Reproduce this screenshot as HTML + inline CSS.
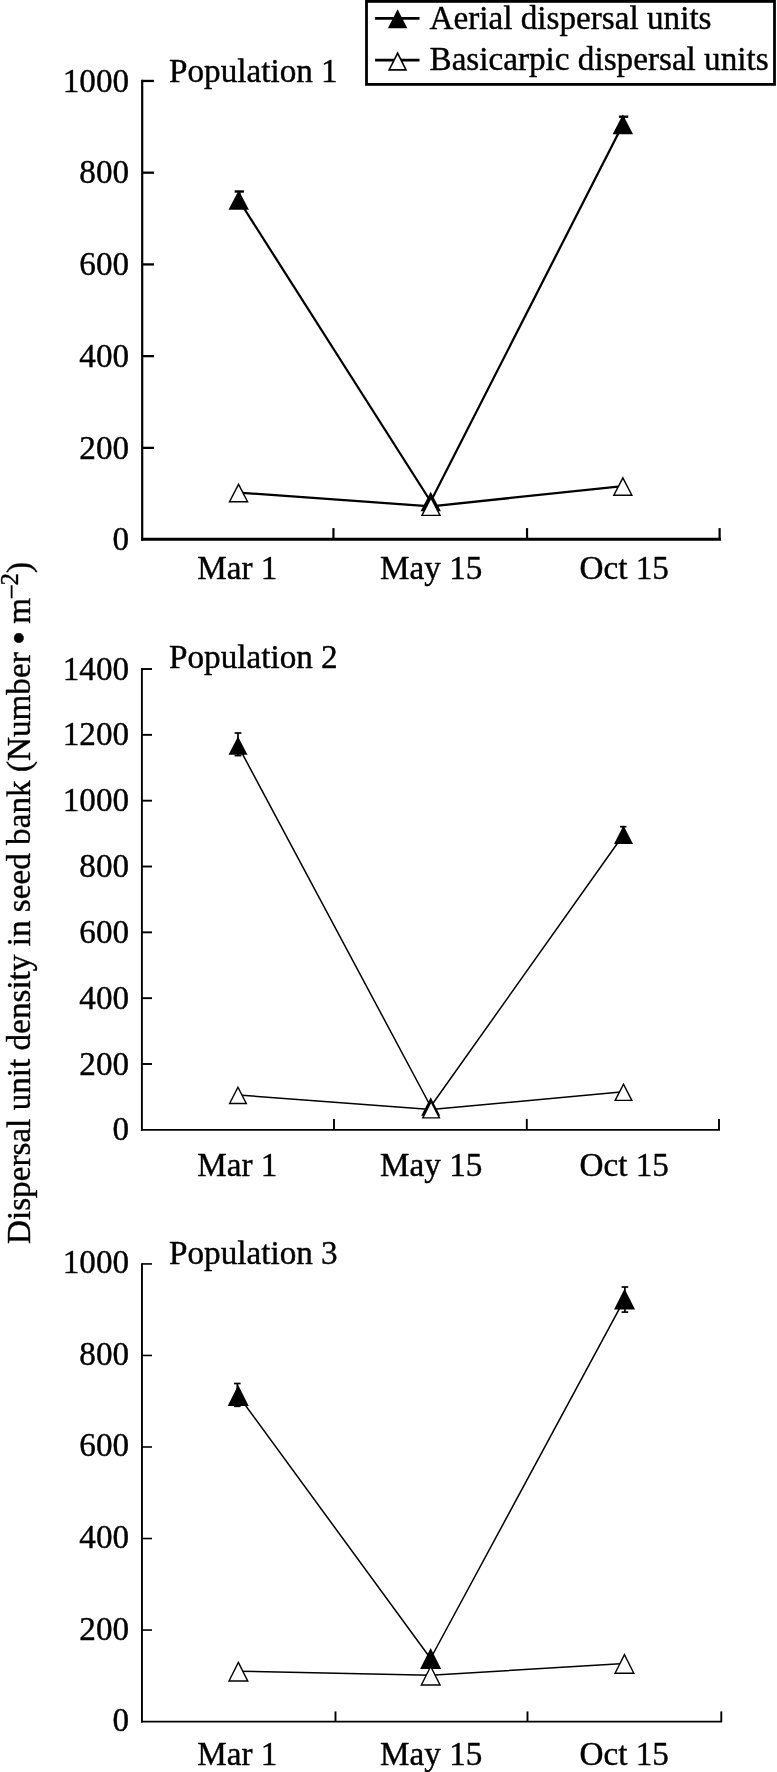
<!DOCTYPE html>
<html><head><meta charset="utf-8"><style>html,body{margin:0;padding:0;background:#fff;width:777px;height:1772px;overflow:hidden}</style></head>
<body>
<svg width="777" height="1772" viewBox="0 0 777 1772" style="display:block;filter:grayscale(1)">
<style>text{stroke:#000;stroke-width:0.4px;stroke-linejoin:round}</style>
<rect width="777" height="1772" fill="#fff"/>
<g font-family='"Liberation Serif", serif' font-size="33.2" fill="#000">
<line x1="142.2" y1="79.80" x2="142.2" y2="540.70" stroke="#000" stroke-width="2.2"/>
<line x1="141.10" y1="539.25" x2="721.0" y2="539.25" stroke="#000" stroke-width="2.9"/>
<text x="129.1" y="550.30" text-anchor="end">0</text>
<line x1="142.2" y1="447.87" x2="154.0" y2="447.87" stroke="#000" stroke-width="2.3"/>
<text x="129.1" y="458.57" text-anchor="end">200</text>
<line x1="142.2" y1="356.14" x2="154.0" y2="356.14" stroke="#000" stroke-width="2.3"/>
<text x="129.1" y="366.84" text-anchor="end">400</text>
<line x1="142.2" y1="264.41" x2="154.0" y2="264.41" stroke="#000" stroke-width="2.3"/>
<text x="129.1" y="275.11" text-anchor="end">600</text>
<line x1="142.2" y1="172.68" x2="154.0" y2="172.68" stroke="#000" stroke-width="2.3"/>
<text x="129.1" y="183.38" text-anchor="end">800</text>
<line x1="142.2" y1="80.95" x2="154.0" y2="80.95" stroke="#000" stroke-width="2.3"/>
<text x="129.1" y="91.65" text-anchor="end">1000</text>
<line x1="333.45" y1="539.25" x2="333.45" y2="528.1" stroke="#000" stroke-width="2.2"/>
<line x1="527.05" y1="539.25" x2="527.05" y2="528.1" stroke="#000" stroke-width="2.2"/>
<line x1="719.6" y1="539.25" x2="719.6" y2="528.1" stroke="#000" stroke-width="2.2"/>
<text x="237.3" y="579.0" text-anchor="middle">Mar 1</text>
<text x="431.2" y="579.0" text-anchor="middle">May 15</text>
<text x="624.2" y="579.0" text-anchor="middle">Oct 15</text>
<text x="169" y="82.1">Population 1</text>
<polyline points="238.7,200.0 430.7,501.5 622.85,124.4" fill="none" stroke="#000" stroke-width="2.25" stroke-linejoin="round"/>
<line x1="239.3" y1="191.5" x2="239.3" y2="200.0" stroke="#000" stroke-width="2.4"/>
<line x1="234.65" y1="191.5" x2="243.95" y2="191.5" stroke="#000" stroke-width="2.4"/>
<polygon points="228.50,209.80 238.70,190.20 248.90,209.80" fill="#000"/>
<polygon points="420.50,511.30 430.70,491.70 440.90,511.30" fill="#000"/>
<line x1="623.6" y1="116.7" x2="623.6" y2="124.4" stroke="#000" stroke-width="2.4"/>
<line x1="619.00" y1="116.7" x2="628.20" y2="116.7" stroke="#000" stroke-width="2.4"/>
<polygon points="612.65,134.20 622.85,114.60 633.05,134.20" fill="#000"/>
<polyline points="238.55,492.65 431.0,506.3 622.85,486.15" fill="none" stroke="#000" stroke-width="2.25" stroke-linejoin="round"/>
<polygon points="228.35,502.45 238.55,482.85 248.75,502.45" fill="#000"/><polygon points="230.66,501.05 238.55,485.88 246.44,501.05" fill="#fff"/>
<polygon points="420.80,516.10 431.00,496.50 441.20,516.10" fill="#000"/><polygon points="423.11,514.70 431.00,499.53 438.89,514.70" fill="#fff"/>
<polygon points="612.65,495.95 622.85,476.35 633.05,495.95" fill="#000"/><polygon points="614.96,494.55 622.85,479.38 630.74,494.55" fill="#fff"/>
<line x1="141.9" y1="668.07" x2="141.9" y2="1130.80" stroke="#000" stroke-width="1.9"/>
<line x1="140.95" y1="1129.85" x2="720.0" y2="1129.85" stroke="#000" stroke-width="1.9"/>
<text x="129.1" y="1140.33" text-anchor="end">0</text>
<line x1="141.9" y1="1064.00" x2="152.0" y2="1064.00" stroke="#000" stroke-width="1.9"/>
<text x="129.1" y="1074.50" text-anchor="end">200</text>
<line x1="141.9" y1="998.17" x2="152.0" y2="998.17" stroke="#000" stroke-width="1.9"/>
<text x="129.1" y="1008.67" text-anchor="end">400</text>
<line x1="141.9" y1="932.34" x2="152.0" y2="932.34" stroke="#000" stroke-width="1.9"/>
<text x="129.1" y="942.84" text-anchor="end">600</text>
<line x1="141.9" y1="866.51" x2="152.0" y2="866.51" stroke="#000" stroke-width="1.9"/>
<text x="129.1" y="877.01" text-anchor="end">800</text>
<line x1="141.9" y1="800.68" x2="152.0" y2="800.68" stroke="#000" stroke-width="1.9"/>
<text x="129.1" y="811.18" text-anchor="end">1000</text>
<line x1="141.9" y1="734.85" x2="152.0" y2="734.85" stroke="#000" stroke-width="1.9"/>
<text x="129.1" y="745.35" text-anchor="end">1200</text>
<line x1="141.9" y1="669.02" x2="152.0" y2="669.02" stroke="#000" stroke-width="1.9"/>
<text x="129.1" y="679.52" text-anchor="end">1400</text>
<line x1="334.0" y1="1129.85" x2="334.0" y2="1118.9" stroke="#000" stroke-width="1.9"/>
<line x1="526.8" y1="1129.85" x2="526.8" y2="1118.9" stroke="#000" stroke-width="1.9"/>
<line x1="719.0" y1="1129.85" x2="719.0" y2="1118.9" stroke="#000" stroke-width="1.9"/>
<text x="237.3" y="1176.0" text-anchor="middle">Mar 1</text>
<text x="431.2" y="1176.0" text-anchor="middle">May 15</text>
<text x="624.2" y="1176.0" text-anchor="middle">Oct 15</text>
<text x="169" y="667.6">Population 2</text>
<polyline points="238.0,745.6 430.7,1106.5 623.5,834.8" fill="none" stroke="#000" stroke-width="1.5" stroke-linejoin="round"/>
<line x1="238.0" y1="733.0" x2="238.0" y2="755.6" stroke="#000" stroke-width="1.7"/>
<line x1="234.60" y1="733.0" x2="241.40" y2="733.0" stroke="#000" stroke-width="1.7"/>
<line x1="234.60" y1="755.6" x2="241.40" y2="755.6" stroke="#000" stroke-width="1.7"/>
<polygon points="228.50,754.80 238.00,736.40 247.50,754.80" fill="#000"/>
<polygon points="421.20,1115.70 430.70,1097.30 440.20,1115.70" fill="#000"/>
<line x1="623.2" y1="826.7" x2="623.2" y2="834.8" stroke="#000" stroke-width="1.7"/>
<line x1="620.00" y1="826.7" x2="626.40" y2="826.7" stroke="#000" stroke-width="1.7"/>
<polygon points="614.00,844.00 623.50,825.60 633.00,844.00" fill="#000"/>
<polyline points="237.95,1095.0 431.1,1109.4 623.5,1091.85" fill="none" stroke="#000" stroke-width="1.5" stroke-linejoin="round"/>
<polygon points="228.45,1104.20 237.95,1085.80 247.45,1104.20" fill="#000"/><polygon points="230.75,1102.80 237.95,1088.85 245.15,1102.80" fill="#fff"/>
<polygon points="421.60,1118.60 431.10,1100.20 440.60,1118.60" fill="#000"/><polygon points="423.90,1117.20 431.10,1103.25 438.30,1117.20" fill="#fff"/>
<polygon points="614.00,1101.05 623.50,1082.65 633.00,1101.05" fill="#000"/><polygon points="616.30,1099.65 623.50,1085.70 630.70,1099.65" fill="#fff"/>
<line x1="141.95" y1="1263.13" x2="141.95" y2="1722.60" stroke="#000" stroke-width="1.9"/>
<line x1="141.00" y1="1721.7" x2="722.0" y2="1721.7" stroke="#000" stroke-width="1.8"/>
<text x="129.1" y="1731.08" text-anchor="end">0</text>
<line x1="141.95" y1="1630.05" x2="152.0" y2="1630.05" stroke="#000" stroke-width="1.6"/>
<text x="129.1" y="1639.55" text-anchor="end">200</text>
<line x1="141.95" y1="1538.52" x2="152.0" y2="1538.52" stroke="#000" stroke-width="1.6"/>
<text x="129.1" y="1548.02" text-anchor="end">400</text>
<line x1="141.95" y1="1446.99" x2="152.0" y2="1446.99" stroke="#000" stroke-width="1.6"/>
<text x="129.1" y="1456.49" text-anchor="end">600</text>
<line x1="141.95" y1="1355.46" x2="152.0" y2="1355.46" stroke="#000" stroke-width="1.6"/>
<text x="129.1" y="1364.96" text-anchor="end">800</text>
<line x1="141.95" y1="1263.93" x2="152.0" y2="1263.93" stroke="#000" stroke-width="1.6"/>
<text x="129.1" y="1273.43" text-anchor="end">1000</text>
<line x1="335.5" y1="1721.7" x2="335.5" y2="1711.4" stroke="#000" stroke-width="1.9"/>
<line x1="527.5" y1="1721.7" x2="527.5" y2="1711.4" stroke="#000" stroke-width="1.9"/>
<line x1="721.3" y1="1721.7" x2="721.3" y2="1711.4" stroke="#000" stroke-width="1.9"/>
<text x="237.3" y="1764.5" text-anchor="middle">Mar 1</text>
<text x="431.2" y="1764.5" text-anchor="middle">May 15</text>
<text x="624.2" y="1764.5" text-anchor="middle">Oct 15</text>
<text x="169" y="1263.5">Population 3</text>
<polyline points="238.2,1395.5 430.6,1658.5 624.55,1299.15" fill="none" stroke="#000" stroke-width="1.5" stroke-linejoin="round"/>
<line x1="237.3" y1="1383.5" x2="237.3" y2="1406.3" stroke="#000" stroke-width="1.7"/>
<line x1="234.00" y1="1383.5" x2="240.60" y2="1383.5" stroke="#000" stroke-width="1.7"/>
<line x1="234.00" y1="1406.3" x2="240.60" y2="1406.3" stroke="#000" stroke-width="1.7"/>
<polygon points="227.70,1405.90 238.20,1385.10 248.70,1405.90" fill="#000"/>
<polygon points="420.10,1668.90 430.60,1648.10 441.10,1668.90" fill="#000"/>
<line x1="624.9" y1="1287.0" x2="624.9" y2="1312.1" stroke="#000" stroke-width="1.7"/>
<line x1="621.60" y1="1287.0" x2="628.20" y2="1287.0" stroke="#000" stroke-width="1.7"/>
<line x1="621.60" y1="1312.1" x2="628.20" y2="1312.1" stroke="#000" stroke-width="1.7"/>
<polygon points="614.05,1309.55 624.55,1288.75 635.05,1309.55" fill="#000"/>
<polyline points="238.35,1671.25 430.7,1675.3 624.45,1663.5" fill="none" stroke="#000" stroke-width="1.5" stroke-linejoin="round"/>
<polygon points="227.85,1681.65 238.35,1660.85 248.85,1681.65" fill="#000"/><polygon points="230.12,1680.25 238.35,1663.96 246.57,1680.25" fill="#fff"/>
<polygon points="420.20,1685.70 430.70,1664.90 441.20,1685.70" fill="#000"/><polygon points="422.47,1684.30 430.70,1668.01 438.93,1684.30" fill="#fff"/>
<polygon points="613.95,1673.90 624.45,1653.10 634.95,1673.90" fill="#000"/><polygon points="616.23,1672.50 624.45,1656.21 632.68,1672.50" fill="#fff"/>
<text transform="translate(30.4,1244) rotate(-90)" font-size="33.2">Dispersal unit density in seed bank (Number <tspan font-size="40" dy="3" dx="-1.1">•</tspan><tspan dy="-3" dx="-1.1"> m</tspan><tspan font-size="25" dy="-12.3">–2</tspan><tspan dy="12.3">)</tspan></text>
<rect x="366.5" y="1.4" width="408.0" height="83.0" fill="#fff" stroke="#000" stroke-width="2.8"/>
<line x1="375.1" y1="18.3" x2="419.5" y2="18.3" stroke="#000" stroke-width="2.8"/>
<polygon points="387.90,28.25 397.60,9.25 407.30,28.25" fill="#000"/>
<line x1="375.1" y1="60.2" x2="419.5" y2="60.2" stroke="#000" stroke-width="2.8"/>
<polygon points="387.90,70.70 397.60,51.30 407.30,70.70" fill="#000"/><polygon points="390.49,69.10 397.60,54.88 404.71,69.10" fill="#fff"/>
<text x="429.5" y="29">Aerial dispersal units</text>
<text x="429.5" y="70">Basicarpic dispersal units</text>
</g></svg>
</body></html>
